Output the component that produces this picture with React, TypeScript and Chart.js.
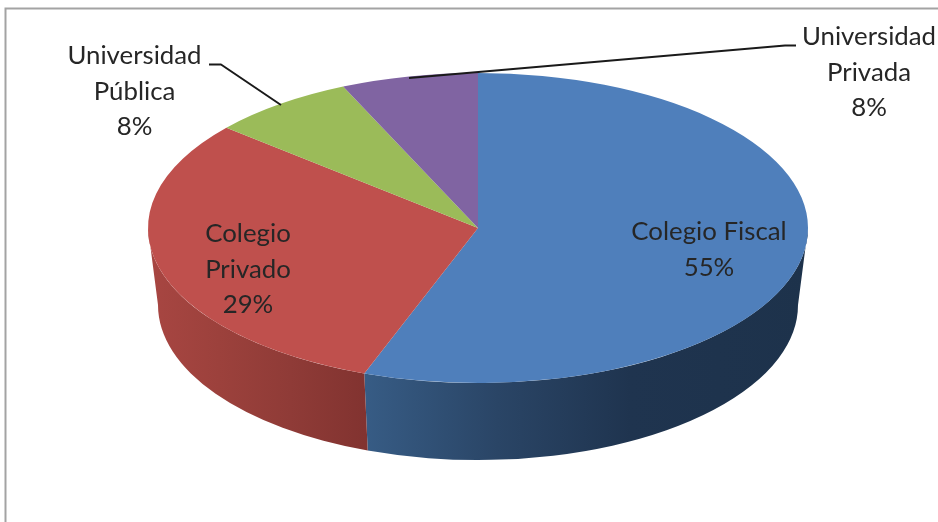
import React, { useEffect, useRef } from "react";
import { Chart, registerables } from "chart.js";

Chart.register(...registerables);

// Data
const categories = ["Colegio Fiscal", "Colegio Privado", "Universidad Pública", "Universidad Privada"];
const printedPercent = ["55%", "29%", "8%", "8%"];
// Shares as they appear in the drawn slices (the 3-D view widens some slices)
const sliceValues = [55.6, 30.6, 7.1, 6.7];
const topColors = ["#4f7fbb", "#bf504d", "#9bbb59", "#8064a2"];
const sideColors = [
  ["#375c85", "#2a4566", "#1f344f", "#1d324b"],
  ["#a84642", "#9c413c", "#8f3b37", "#823330"],
  ["#9bbb59", "#9bbb59", "#9bbb59", "#9bbb59"],
  ["#8064a2", "#8064a2", "#8064a2", "#8064a2"],
];
const sideOffsets = [
  [0, 0.3, 0.6, 1],
  [0, 0.33, 0.66, 1],
  [0, 0.33, 0.66, 1],
  [0, 0.33, 0.66, 1],
];

// Layout
const CX = 478, CY = 228, RX = 330, RY = 155;
const BOTTOM_CY = 305, BOTTOM_RX = 320, BOTTOM_RY = 155;
const FONT = '25.8px Lato, "Open Sans", sans-serif';
const LINE_H = 35.5;
const labelLayout = [
  { x: 709, y: 232, lines: ["Colegio Fiscal", printedPercent[0]] },
  { x: 248, y: 234, lines: ["Colegio", "Privado", printedPercent[1]] },
  { x: 134.5, y: 56, lines: ["Universidad", "Pública", printedPercent[2]] },
  { x: 869, y: 37, lines: ["Universidad", "Privada", printedPercent[3]] },
];
const leaders: number[][][] = [
  [[209, 64.5], [221, 64.5], [281, 105]],
  [[409, 78], [785, 45.5], [796, 45.5]],
];

const pie3d = {
  id: "pie3d",
  beforeDraw(chart: any) {
    const { ctx, width, height } = chart;
    ctx.save();
    ctx.fillStyle = "#ffffff";
    ctx.fillRect(0, 0, width, height);
    ctx.strokeStyle = "#a3a3a3";
    ctx.lineWidth = 2;
    ctx.beginPath();
    ctx.moveTo(5.5, height);
    ctx.lineTo(5.5, 8.5);
    ctx.lineTo(width, 8.5);
    ctx.stroke();
    ctx.restore();
  },
  beforeDatasetsDraw(chart: any) {
    const { ctx } = chart;
    const arcs = chart.getDatasetMeta(0).data;
    ctx.save();
    arcs.forEach((arc: any, i: number) => {
      const a0 = Math.max(arc.startAngle, 0);
      const a1 = Math.min(arc.endAngle, Math.PI);
      if (a1 <= a0) return;
      const xs = [a0, a1].map((a) => CX + RX * Math.cos(a));
      const g = ctx.createLinearGradient(Math.min(xs[0], xs[1]), 0, Math.max(xs[0], xs[1]), 0);
      sideColors[i].forEach((c: string, k: number) => g.addColorStop(sideOffsets[i][k], c));
      // the red side runs light (left) to dark (right), as does the blue side
      ctx.fillStyle = g;
      ctx.beginPath();
      ctx.ellipse(CX, CY, RX, RY, 0, a0, a1, false);
      ctx.ellipse(CX, BOTTOM_CY, BOTTOM_RX, BOTTOM_RY, 0, a1, a0, true);
      ctx.closePath();
      ctx.fill();
    });
    ctx.restore();

    const first = arcs[0];
    const r = first.outerRadius;
    ctx.save();
    ctx.translate(CX, CY);
    ctx.scale(RX / r, RY / r);
    ctx.translate(-first.x, -first.y);
  },
  afterDatasetsDraw(chart: any) {
    chart.ctx.restore();
  },
  afterDraw(chart: any) {
    const { ctx } = chart;
    ctx.save();
    ctx.strokeStyle = "#1a1a1a";
    ctx.lineWidth = 2;
    ctx.lineJoin = "round";
    leaders.forEach((pts) => {
      ctx.beginPath();
      pts.forEach(([x, y], k) => (k === 0 ? ctx.moveTo(x, y) : ctx.lineTo(x, y)));
      ctx.stroke();
    });
    ctx.fillStyle = "#262626";
    ctx.font = FONT;
    ctx.textAlign = "center";
    ctx.textBaseline = "middle";
    labelLayout.forEach((l) => {
      l.lines.forEach((t, k) => ctx.fillText(t, l.x, l.y + k * LINE_H));
    });
    ctx.restore();
  },
};

export default function App() {
  const ref = useRef<HTMLCanvasElement | null>(null);
  useEffect(() => {
    const chart = new Chart(ref.current as HTMLCanvasElement, {
      type: "pie",
      data: {
        labels: categories,
        datasets: [
          {
            data: sliceValues,
            backgroundColor: topColors,
            borderWidth: 0,
            clip: false,
          } as any,
        ],
      },
      options: {
        responsive: false,
        animation: false,
        events: [],
        layout: { padding: 0 },
        plugins: { legend: { display: false }, tooltip: { enabled: false }, title: { display: false } },
      },
      plugins: [pie3d],
    });
    return () => chart.destroy();
  }, []);
  return (
    <div style={{ position: "fixed", left: 0, top: 0, width: 938, height: 522, background: "#fff" }}>
      <canvas ref={ref} width={938} height={522} style={{ display: "block", width: 938, height: 522 }} />
    </div>
  );
}
